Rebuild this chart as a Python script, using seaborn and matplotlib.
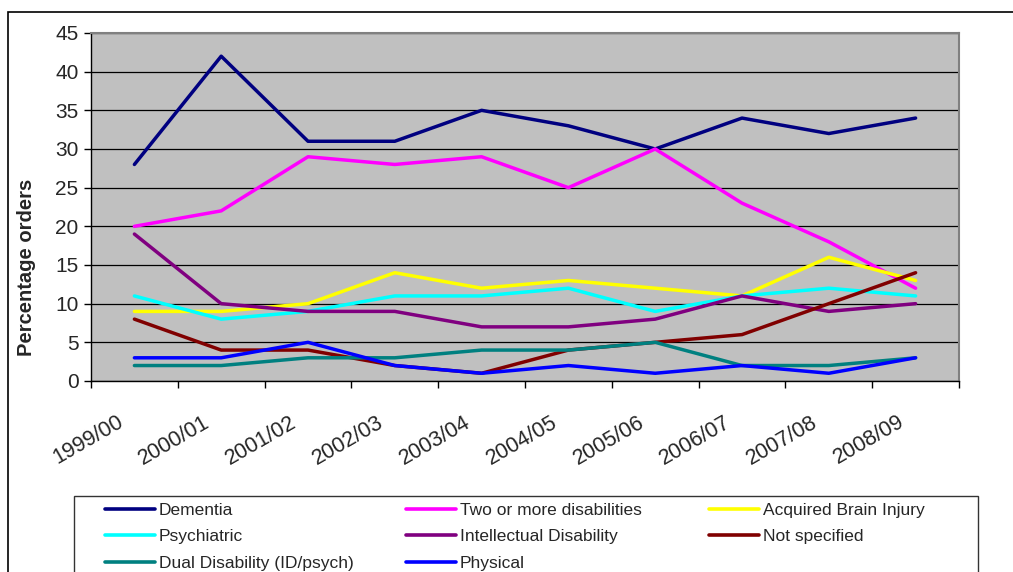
import matplotlib
matplotlib.use("Agg")
import matplotlib.pyplot as plt
import matplotlib.transforms as mtrans
from matplotlib.lines import Line2D
from matplotlib.patches import Rectangle
import numpy as np
import pandas as pd
import seaborn as sns

# Financial years
years = ["1999/00", "2000/01", "2001/02", "2002/03", "2003/04",
         "2004/05", "2005/06", "2006/07", "2007/08", "2008/09"]

# Percentage of orders by disability type
dementia = [28, 42, 31, 31, 35, 33, 30, 34, 32, 34]
two_or_more = [20, 22, 29, 28, 29, 25, 30, 23, 18, 12]
acquired_brain_injury = [9, 9, 10, 14, 12, 13, 12, 11, 16, 13]
psychiatric = [11, 8, 9, 11, 11, 12, 9, 11, 12, 11]
intellectual = [19, 10, 9, 9, 7, 7, 8, 11, 9, 10]
not_specified = [8, 4, 4, 2, 1, 4, 5, 6, 10, 14]
dual_disability = [2, 2, 3, 3, 4, 4, 5, 2, 2, 3]
physical = [3, 3, 5, 2, 1, 2, 1, 2, 1, 3]

series_names = ["Dementia", "Two or more disabilities", "Acquired Brain Injury",
                "Psychiatric", "Intellectual Disability", "Not specified",
                "Dual Disability (ID/psych)", "Physical"]
series_values = [dementia, two_or_more, acquired_brain_injury, psychiatric,
                 intellectual, not_specified, dual_disability, physical]
series_colors = ["#000080", "#FF00FF", "#FFFF00", "#00FFFF",
                 "#800080", "#800000", "#008080", "#0000FF"]

df = pd.DataFrame(
    [(name, yr, v) for name, vals in zip(series_names, series_values)
     for yr, v in zip(years, vals)],
    columns=["Type", "Year", "Percent"],
)

sns.set_theme(style="white")
plt.rcParams["font.family"] = ["Liberation Sans", "DejaVu Sans"]

W, H = 1013, 572
fig = plt.figure(figsize=(W / 100, H / 100), dpi=100)
fig.patch.set_facecolor("white")


def fx(px):
    return px / W


def fy(py):
    return 1 - py / H


# Outer chart frame
fig.add_artist(Rectangle((fx(8), -0.05), 1.2, fy(12) + 0.05,
                         transform=fig.transFigure, fill=False,
                         edgecolor="black", linewidth=1.2, zorder=0))

ax = fig.add_axes([fx(91), fy(381), fx(959) - fx(91), fy(33) - fy(381)])
ax.set_facecolor("#C0C0C0")

palette = dict(zip(series_names, series_colors))
sns.lineplot(data=df, x="Year", y="Percent", hue="Type",
             hue_order=series_names, palette=palette, linewidth=2.5,
             legend=False, ax=ax, sort=False)

ax.set_xlim(-0.5, len(years) - 0.5)
ax.set_ylim(0, 45)
ax.set_yticks(np.arange(0, 46, 5))
ax.yaxis.grid(True, color="black", linewidth=0.9)
ax.set_axisbelow(True)
ax.set_xlabel("")
ax.set_ylabel("")

ax.set_xticks(range(len(years)))
ax.set_xticks(np.arange(-0.5, len(years), 1.0), minor=True)
ax.set_xticklabels(years, rotation=30, ha="right", va="top",
                   rotation_mode="anchor", fontsize=15.5)
ax.tick_params(axis="x", which="major", length=0, pad=22)
ax.tick_params(axis="x", which="minor", length=5, width=1, color="black",
               direction="out", bottom=True)
ax.tick_params(axis="y", which="major", length=5, width=1, color="black",
               direction="out", left=True, labelsize=15, pad=4)
offset = mtrans.ScaledTranslation(-18 / 100, 0, fig.dpi_scale_trans)
for lbl in ax.get_xticklabels():
    lbl.set_transform(lbl.get_transform() + offset)

for side in ["left", "bottom"]:
    ax.spines[side].set_color("black")
    ax.spines[side].set_linewidth(1.0)
for side in ["top", "right"]:
    ax.spines[side].set_color("#808080")
    ax.spines[side].set_linewidth(1.5)

fig.text(fx(27), fy(267), "Percentage orders", rotation=90,
         ha="center", va="center", fontsize=14.5, fontweight="bold")

# Legend box and three legend columns
fig.add_artist(Rectangle((fx(74), -0.05), fx(978) - fx(74), fy(496) + 0.05,
                         transform=fig.transFigure, fill=False,
                         edgecolor="#333333", linewidth=1.0, zorder=1))

columns = [[0, 3, 6], [1, 4, 7], [2, 5]]
col_x = [105, 406, 709]
for idxs, x0 in zip(columns, col_x):
    handles = [Line2D([], [], color=series_colors[i], linewidth=2.6) for i in idxs]
    labels = [series_names[i] for i in idxs]
    fig.legend(handles, labels, loc="upper left",
               bbox_to_anchor=(fx(x0), fy(503)), bbox_transform=fig.transFigure,
               frameon=False, borderpad=0, borderaxespad=0,
               handlelength=2.9, handletextpad=0.2, labelspacing=0.64,
               fontsize=12.5)

fig.savefig("out.png", dpi=100)
